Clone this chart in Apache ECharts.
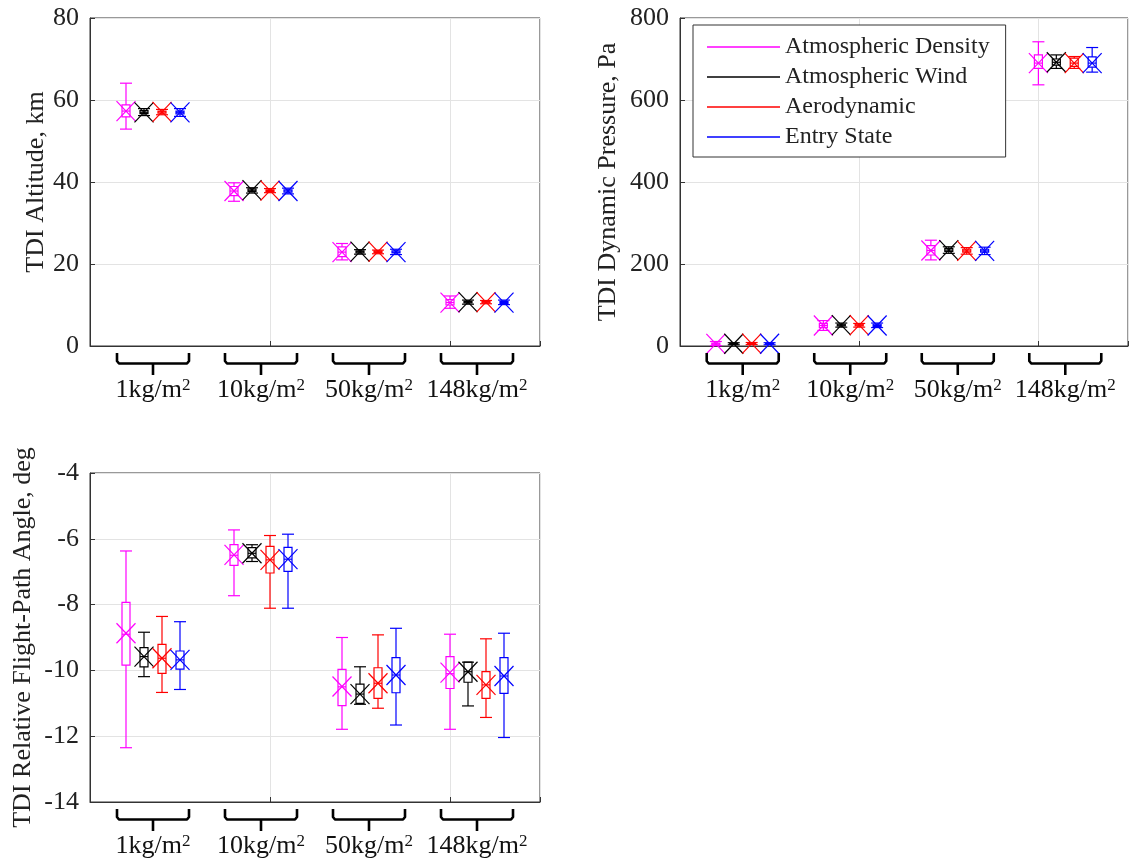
<!DOCTYPE html>
<html>
<head>
<meta charset="utf-8">
<script src="https://cdn.jsdelivr.net/npm/echarts@6/dist/echarts.min.js"></script>
<style>
html, body { margin: 0; background: #fff; }
#main { width: 1129px; height: 863px; }
</style>
</head>
<body>
<div id="main"></div>
<script>
var sources = ['Atmospheric Density', 'Atmospheric Wind', 'Aerodynamic', 'Entry State'];
var colors = ['#ff00ff', '#000000', '#ff0000', '#0000ff'];
var groups = ['1', '10', '50', '148'];          // ballistic coefficient, kg/m2
var groupCenter = [3.5, 9.5, 15.5, 21.5];
// x position of the box for source s (row) in group g (column)
var positions = [[2, 8, 14, 20], [3, 9, 15, 21], [4, 10, 16, 22], [5, 11, 17, 23]];

// each row: [min, q1, median, q3, max, mean], one row per group
var altDensity = [[52.9, 55.9, 57.3, 58.8, 64.1, 57.3], [35.3, 36.7, 37.8, 38.9, 39.8, 37.8], [21.0, 21.8, 22.9, 24.2, 25.0, 22.9], [9.2, 10.0, 10.6, 11.3, 12.2, 10.6]];
var altWind    = [[56.2, 56.7, 57.0, 57.4, 57.9, 57.0], [37.3, 37.7, 38.0, 38.3, 38.6, 38.0], [22.4, 22.7, 23.0, 23.2, 23.5, 23.0], [10.2, 10.5, 10.7, 10.9, 11.2, 10.7]];
var altAero    = [[56.4, 56.8, 57.1, 57.3, 57.7, 57.1], [37.4, 37.7, 37.9, 38.1, 38.4, 37.9], [22.5, 22.8, 23.0, 23.2, 23.4, 23.0], [10.3, 10.5, 10.7, 10.9, 11.1, 10.7]];
var altEntry   = [[56.0, 56.6, 57.0, 57.3, 57.9, 57.0], [37.1, 37.5, 37.8, 38.1, 38.5, 37.8], [22.3, 22.7, 22.9, 23.2, 23.6, 22.9], [10.1, 10.4, 10.6, 10.9, 11.2, 10.6]];

var dynDensity = [[1, 3, 5, 7, 11, 5], [38, 45, 50, 55, 62, 50], [210, 222, 233, 245, 258, 233], [637, 677, 690, 710, 742, 690]];
var dynWind    = [[3, 4.5, 5.5, 6.5, 8, 5.5], [46, 49, 51, 53, 56, 51], [226, 231, 234, 238, 242, 234], [677, 685, 692, 700, 710, 692]];
var dynAero    = [[3.5, 5, 6, 7, 8.5, 6], [46, 49, 51, 53, 55, 51], [224, 229, 232, 236, 240, 232], [677, 682, 690, 702, 706, 690]];
var dynEntry   = [[3, 4.5, 5.5, 6.5, 8, 5.5], [45, 48, 50, 53, 56, 50], [223, 229, 232, 236, 241, 232], [668, 680, 690, 705, 728, 690]];

var fpaDensity = [[-12.35, -9.84, -8.9, -7.93, -6.37, -8.87], [-7.73, -6.81, -6.5, -6.18, -5.73, -6.49], [-11.79, -11.07, -10.5, -9.97, -9.0, -10.49], [-11.79, -10.55, -10.1, -9.58, -8.9, -10.07]];
var fpaWind    = [[-10.19, -9.89, -9.58, -9.31, -8.84, -9.58], [-6.69, -6.58, -6.44, -6.27, -6.18, -6.44], [-11.03, -11.0, -10.72, -10.42, -9.89, -10.72], [-11.08, -10.36, -10.04, -9.75, -9.75, -10.04]];
var fpaAero    = [[-10.67, -10.09, -9.63, -9.21, -8.36, -9.63], [-8.11, -7.04, -6.64, -6.23, -5.9, -6.64], [-11.15, -10.85, -10.39, -9.92, -8.92, -10.39], [-11.43, -10.85, -10.44, -10.04, -9.04, -10.44]];
var fpaEntry   = [[-10.58, -9.96, -9.68, -9.41, -8.52, -9.68], [-8.11, -6.99, -6.62, -6.26, -5.86, -6.62], [-11.66, -10.68, -10.14, -9.61, -8.72, -10.14], [-12.04, -10.7, -10.17, -9.61, -8.87, -10.17]];

var plots = [
	{ name: 'TDI Altitude, km', min: 0, max: 80, interval: 20, gap: 33, data: [altDensity, altWind, altAero, altEntry] },
	{ name: 'TDI Dynamic Pressure, Pa', min: 0, max: 800, interval: 200, gap: 59, data: [dynDensity, dynWind, dynAero, dynEntry] },
	{ name: 'TDI Relative Flight-Path Angle, deg', min: -14, max: -4, interval: 2, gap: 54, data: [fpaDensity, fpaWind, fpaAero, fpaEntry] }
];
var grids = [
	{ left: 90, top: 18, width: 450, height: 328 },
	{ left: 680, top: 18, width: 448, height: 328 },
	{ left: 90, top: 473, width: 450, height: 329 }
];

var FONT = 'Liberation Serif';

function seg(x1, y1, x2, y2, c) {
	return { type: 'line', shape: { x1: x1, y1: y1, x2: x2, y2: y2 }, style: { stroke: c, lineWidth: 1.2 } };
}

function renderBox(params, api) {
	var x = api.value(0);
	var c = api.visual('color');
	var lo = api.coord([x, api.value(1)]);
	var q1 = api.coord([x, api.value(2)]);
	var md = api.coord([x, api.value(3)]);
	var q3 = api.coord([x, api.value(4)]);
	var hi = api.coord([x, api.value(5)]);
	var mn = api.coord([x, api.value(6)]);
	var px = lo[0];
	return {
		type: 'group',
		children: [
			seg(px, hi[1], px, q3[1], c),
			seg(px, q1[1], px, lo[1], c),
			seg(px - 6, hi[1], px + 6, hi[1], c),
			seg(px - 6, lo[1], px + 6, lo[1], c),
			{ type: 'rect', shape: { x: px - 4, y: q3[1], width: 8, height: q1[1] - q3[1] }, style: { stroke: c, fill: null, lineWidth: 1.2 } },
			seg(px - 4, md[1], px + 4, md[1], c),
			seg(px - 9.5, mn[1] - 10, px + 9.5, mn[1] + 10, c),
			seg(px - 9.5, mn[1] + 10, px + 9.5, mn[1] - 10, c)
		]
	};
}

function renderBrace(params, api) {
	var p = api.coord([api.value(0), api.value(1)]);
	var x = p[0], y = p[1];
	var g = api.value(2);
	return {
		type: 'group',
		children: [
			{ type: 'polyline', shape: { points: [[x - 36, y + 7], [x - 36, y + 15], [x - 34, y + 17.5], [x + 34, y + 17.5], [x + 36, y + 15], [x + 36, y + 7]] },
				style: { stroke: '#000', lineWidth: 2.6, fill: null, lineJoin: 'round' } },
			{ type: 'line', shape: { x1: x, y1: y + 17.5, x2: x, y2: y + 29 }, style: { stroke: '#000', lineWidth: 2.6 } },
			{ type: 'text', x: x, y: y + 44,
				style: { text: '{n|' + groups[g] + 'kg/m}{s|2}', align: 'center', verticalAlign: 'middle', fill: '#111',
					rich: {
						n: { fontFamily: FONT, fontSize: 26, lineHeight: 26, verticalAlign: 'bottom', fill: '#111' },
						s: { fontFamily: FONT, fontSize: 17, lineHeight: 17, verticalAlign: 'top', fill: '#111' }
					} } }
		]
	};
}

var xAxes = [], yAxes = [], series = [];
plots.forEach(function(pl, p) {
	xAxes.push({
		type: 'value', gridIndex: p, min: 0, max: 25, interval: 10,
		axisLabel: { show: false },
		axisLine: { lineStyle: { color: '#333' } },
		axisTick: { inside: true, length: 5, lineStyle: { color: '#333' } },
		splitLine: { show: true, lineStyle: { color: '#e3e3e3' } }
	});
	yAxes.push({
		type: 'value', gridIndex: p, min: pl.min, max: pl.max, interval: pl.interval,
		name: pl.name, nameLocation: 'middle', nameGap: pl.gap,
		nameTextStyle: { fontFamily: FONT, fontSize: 26, color: '#222' },
		axisLabel: { fontFamily: FONT, fontSize: 26, color: '#222', margin: 11 },
		axisLine: { show: true, lineStyle: { color: '#333' } },
		axisTick: { show: true, inside: true, length: 5, lineStyle: { color: '#333' } },
		splitLine: { show: true, lineStyle: { color: '#e3e3e3' } }
	});
	pl.data.forEach(function(rows, s) {
		series.push({
			type: 'custom', name: sources[s], xAxisIndex: p, yAxisIndex: p,
			itemStyle: { color: colors[s] },
			renderItem: renderBox,
			encode: { x: 0, y: [1, 5] },
			data: rows.map(function(r, g) { return [positions[s][g]].concat(r); })
		});
	});
	series.push({
		type: 'custom', xAxisIndex: p, yAxisIndex: p, clip: false, silent: true,
		renderItem: renderBrace,
		encode: { x: 0, y: 1 },
		data: groupCenter.map(function(c, g) { return [c, pl.min, g]; })
	});
});

var chart = echarts.init(document.getElementById('main'));
chart.setOption({
	animation: false,
	backgroundColor: '#fff',
	grid: grids.map(function(g) { return Object.assign({ show: true, borderColor: '#333', borderWidth: 1, containLabel: false }, g); }),
	xAxis: xAxes,
	yAxis: yAxes,
	legend: {
		data: sources, orient: 'vertical', left: 693, top: 25,
		icon: 'rect', itemWidth: 73, itemHeight: 1.5, itemGap: 6,
		padding: [10, 16, 8, 14],
		borderColor: '#333', borderWidth: 1, backgroundColor: '#fff',
		selectedMode: false,
		textStyle: { fontFamily: FONT, fontSize: 24, color: '#222' }
	},
	series: series
});
</script>
</body>
</html>
